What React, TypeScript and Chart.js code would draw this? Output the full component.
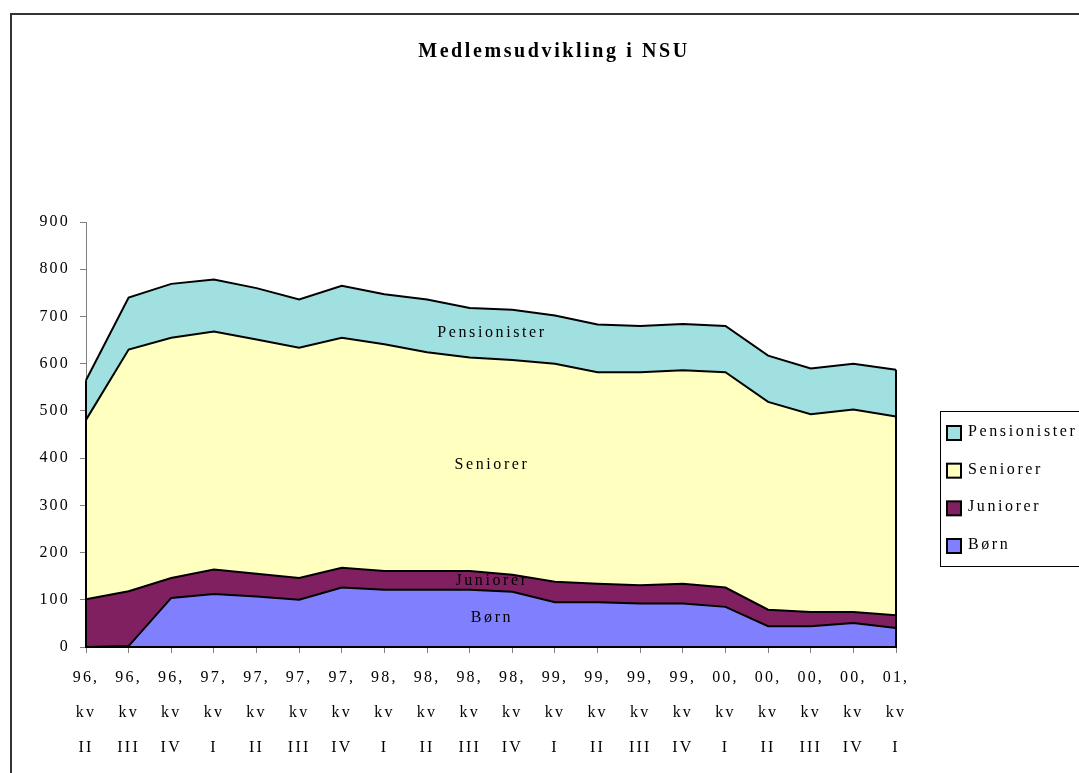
import React, { useEffect, useRef } from 'react';
import { Chart, registerables } from 'chart.js';

Chart.register(...registerables);

// ---- data ----
const years = ['96,', '96,', '96,', '97,', '97,', '97,', '97,', '98,', '98,', '98,', '98,', '99,', '99,', '99,', '99,', '00,', '00,', '00,', '00,', '01,'];
const quarters = ['II', 'III', 'IV', 'I', 'II', 'III', 'IV', 'I', 'II', 'III', 'IV', 'I', 'II', 'III', 'IV', 'I', 'II', 'III', 'IV', 'I'];
const seriesNames = ['Børn', 'Juniorer', 'Seniorer', 'Pensionister'];
const born = [0, 2, 104, 112, 107, 100, 126, 121, 121, 121, 117, 95, 95, 92, 92, 85, 44, 44, 51, 40];
const juniorer = [101, 116, 42, 52, 48, 46, 42, 40, 40, 40, 36, 43, 39, 39, 42, 41, 35, 30, 23, 27];
const seniorer = [380, 512, 509, 504, 496, 488, 487, 480, 463, 452, 455, 462, 448, 451, 452, 456, 440, 419, 429, 421];
const pensionister = [84, 110, 114, 110, 109, 102, 110, 106, 112, 105, 106, 102, 101, 98, 98, 98, 98, 97, 97, 99];
const yMin = 0;
const yMax = 900;
const yStep = 100;
const titleText = 'Medlemsudvikling i NSU';
const seriesColors = ['#8080FF', '#802060', '#FFFFC0', '#A0E0E0'];

const FONT = '"Liberation Serif", "Times New Roman", serif';
const SPACING = '2.2px';
const W = 1086;
const H = 786;

const labels = years.map((y, i) => [y, 'kv', quarters[i]]);
const seriesValues = [born, juniorer, seniorer, pensionister];

const spacingPlugin = {
  id: 'letterSpacingPlugin',
  beforeUpdate(chart: any) { chart.ctx.letterSpacing = SPACING; },
  beforeLayout(chart: any) { chart.ctx.letterSpacing = SPACING; },
  beforeDraw(chart: any) { chart.ctx.letterSpacing = SPACING; },
};

const decorPlugin = {
  id: 'decorPlugin',
  afterDatasetsDraw(chart: any) {
    const ctx = chart.ctx;
    const xs = chart.scales.x;
    const ys = chart.scales.y;
    const n = labels.length;
    const total = (i: number) => seriesValues.reduce((s, arr) => s + arr[i], 0);
    ctx.save();
    ctx.letterSpacing = '0px';
    ctx.strokeStyle = '#000';
    ctx.lineWidth = 2;
    ctx.beginPath();
    ctx.moveTo(xs.getPixelForValue(0), ys.getPixelForValue(total(0)));
    ctx.lineTo(xs.getPixelForValue(0), ys.getPixelForValue(0));
    ctx.lineTo(xs.getPixelForValue(n - 1), ys.getPixelForValue(0));
    ctx.lineTo(xs.getPixelForValue(n - 1), ys.getPixelForValue(total(n - 1)));
    ctx.stroke();

    // series name labels inside the areas
    const mid = (n - 1) / 2;
    const i0 = Math.floor(mid);
    const i1 = Math.ceil(mid);
    const cumAt = (k: number, i: number) => {
      let s = 0;
      for (let j = 0; j <= k; j++) s += seriesValues[j][i];
      return s;
    };
    ctx.letterSpacing = '2.6px';
    ctx.font = `16px ${FONT}`;
    ctx.fillStyle = '#000';
    ctx.textAlign = 'center';
    ctx.textBaseline = 'middle';
    for (let k = 0; k < seriesValues.length; k++) {
      const top = (cumAt(k, i0) + cumAt(k, i1)) / 2;
      const bottom = k === 0 ? 0 : (cumAt(k - 1, i0) + cumAt(k - 1, i1)) / 2;
      const v = (top + bottom) / 2;
      ctx.fillText(seriesNames[k], xs.getPixelForValue(mid) + 1, ys.getPixelForValue(v) - 1);
    }
    ctx.restore();
  },
  afterDraw(chart: any) {
    const ctx = chart.ctx;
    ctx.save();
    // title
    ctx.letterSpacing = '2.6px';
    ctx.font = `bold 20px ${FONT}`;
    ctx.fillStyle = '#000';
    ctx.textAlign = 'center';
    ctx.textBaseline = 'alphabetic';
    ctx.fillText(titleText, 542, 42);

    // legend
    ctx.letterSpacing = '2.6px';
    ctx.lineWidth = 1;
    ctx.strokeStyle = '#000';
    ctx.strokeRect(928.5, 396.5, 220, 155);
    ctx.font = `16px ${FONT}`;
    ctx.textAlign = 'left';
    ctx.textBaseline = 'alphabetic';
    const order = [3, 2, 1, 0];
    order.forEach((k, idx) => {
      const top = 411 + idx * 37.67;
      ctx.fillStyle = seriesColors[k];
      ctx.fillRect(935, top, 14, 14);
      ctx.lineWidth = 2;
      ctx.strokeStyle = '#000';
      ctx.strokeRect(935, top, 14, 14);
      ctx.fillStyle = '#000';
      ctx.fillText(seriesNames[k], 956, top + 10);
    });
    ctx.restore();
  },
};

export default function App() {
  const canvasRef = useRef<HTMLCanvasElement | null>(null);

  useEffect(() => {
    if (!canvasRef.current) return;
    Chart.defaults.font.family = FONT;
    const chart = new Chart(canvasRef.current, {
      type: 'line',
      data: {
        labels,
        datasets: seriesValues.map((vals, k) => ({
          label: seriesNames[k],
          data: vals,
          backgroundColor: seriesColors[k],
          borderColor: '#000',
          borderWidth: 2,
          pointRadius: 0,
          pointHoverRadius: 0,
          tension: 0,
          fill: k === 0 ? 'origin' : '-1',
          clip: false as any,
        })),
      },
      options: {
        responsive: false,
        animation: false,
        devicePixelRatio: 1,
        layout: { padding: { top: 207, right: W - 884, left: 0, bottom: H - 632 - 110 } },
        plugins: {
          legend: { display: false },
          title: { display: false },
          tooltip: { enabled: false },
        },
        scales: {
          x: {
            offset: false,
            grid: { drawOnChartArea: false, drawTicks: true, tickLength: 6, color: '#808080' },
            border: { display: true, color: '#000', width: 1 },
            ticks: {
              color: '#000',
              font: { size: 16, family: FONT, lineHeight: 2.2 },
              padding: 7,
              maxRotation: 0,
              autoSkip: false,
            },
            afterFit: (scale: any) => { scale.height = 110; },
          },
          y: {
            stacked: true,
            min: yMin,
            max: yMax,
            grid: { drawOnChartArea: false, drawTicks: true, tickLength: 6, color: '#808080' },
            border: { display: true, color: '#808080', width: 1 },
            ticks: {
              stepSize: yStep,
              color: '#000',
              font: { size: 16, family: FONT },
              padding: 10,
            },
            afterFit: (scale: any) => { scale.width = 74; },
          },
        },
      },
      plugins: [spacingPlugin, decorPlugin],
    });
    return () => chart.destroy();
  }, []);

  return (
    <div style={{ position: 'fixed', left: 0, top: 0, width: 1079, height: 773, overflow: 'hidden', background: '#fff' }}>
      <div style={{ position: 'absolute', left: 10, top: 13, width: W, height: H, border: '2px solid #333' }}>
        <canvas ref={canvasRef} width={W} height={H} style={{ display: 'block', width: W, height: H }} />
      </div>
    </div>
  );
}
